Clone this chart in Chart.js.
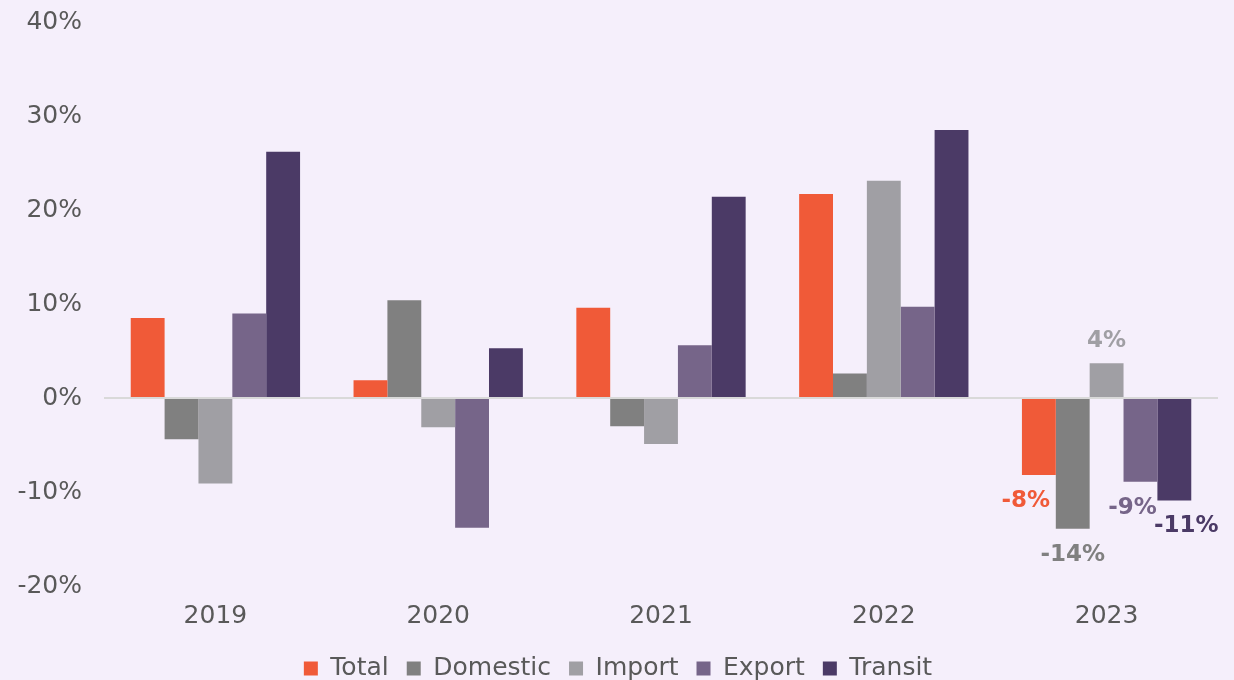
<!DOCTYPE html>
<html>
<head>
<meta charset="utf-8">
<script src="https://cdn.jsdelivr.net/npm/chart.js@4/dist/chart.umd.min.js"></script>
<style>
  html, body { margin: 0; padding: 0; background: #F5EFFB; }
  #wrap { width: 1234px; height: 680px; }
</style>
</head>
<body>
<div id="wrap"><canvas id="chart" width="1234" height="680"></canvas></div>
<script>
// categories and series values (percent change)
const years = ['2019', '2020', '2021', '2022', '2023'];
const total    = [8.5, 1.9, 9.6, 21.7, -8.2];
const domestic = [-4.4, 10.4, -3.0, 2.6, -13.9];
const imports  = [-9.1, -3.1, -4.9, 23.1, 3.7];
const exports  = [9.0, -13.8, 5.6, 9.7, -8.9];
const transit  = [26.2, 5.3, 21.4, 28.5, -10.9];
const yTicks = [-20, -10, 0, 10, 20, 30, 40];

const textColor = '#595959';
const font = 'DejaVu Sans';

function series(label, data, color, labelNudge) {
	return { label: label, data: data, backgroundColor: color, labelNudge: labelNudge };
}

// draws value labels on the last category only
const lastLabels = {
	id: 'lastLabels',
	afterDatasetsDraw(chart) {
		const ctx = chart.ctx;
		const idx = years.length - 1;
		ctx.save();
		ctx.font = 'bold 23px "' + font + '"';
		ctx.textAlign = 'center';
		ctx.textBaseline = 'middle';
		chart.data.datasets.forEach((ds, i) => {
			const bar = chart.getDatasetMeta(i).data[idx];
			const v = ds.data[idx];
			const y = v >= 0 ? bar.y - 22 : bar.y + 26;
			ctx.fillStyle = ds.backgroundColor;
			ctx.fillText(Math.round(v) + '%', bar.x + (ds.labelNudge || 0), y);
		});
		ctx.restore();
	}
};

new Chart(document.getElementById('chart'), {
	type: 'bar',
	data: {
		labels: years,
		datasets: [
			series('Total', total, '#F05A38', -13),
			series('Domestic', domestic, '#808080', 0),
			series('Import', imports, '#A09FA4', 0),
			series('Export', exports, '#766589', -8),
			series('Transit', transit, '#4B3A66', 12)
		]
	},
	options: {
		responsive: false,
		animation: false,
		layout: { padding: { left: 18, right: 16, top: 22, bottom: -11 } },
		datasets: { bar: { categoryPercentage: 0.76, barPercentage: 1.0 } },
		scales: {
			x: {
				grid: { display: false },
				border: { display: false },
				ticks: { color: textColor, font: { family: font, size: 25 }, padding: 7 }
			},
			y: {
				min: -20,
				max: 40,
				afterBuildTicks: axis => { axis.ticks = yTicks.map(v => ({ value: v })); },
				afterFit: axis => { axis.width = 86; axis.paddingTop = 0; axis.paddingBottom = 0; },
				border: { display: false },
				grid: {
					drawTicks: false,
					lineWidth: ctx => ctx.tick && ctx.tick.value === 0 ? 2 : 0,
					color: '#D9D9D9'
				},
				ticks: {
					color: textColor,
					font: { family: font, size: 25 },
					padding: 22,
					callback: v => v + '%'
				}
			}
		},
		plugins: {
			legend: {
				position: 'bottom',
				labels: {
					color: textColor,
					font: { family: font, size: 25 },
					boxWidth: 14,
					boxHeight: 14,
					padding: 18
				}
			},
			tooltip: { enabled: false }
		}
	},
	plugins: [lastLabels]
});
</script>
</body>
</html>
